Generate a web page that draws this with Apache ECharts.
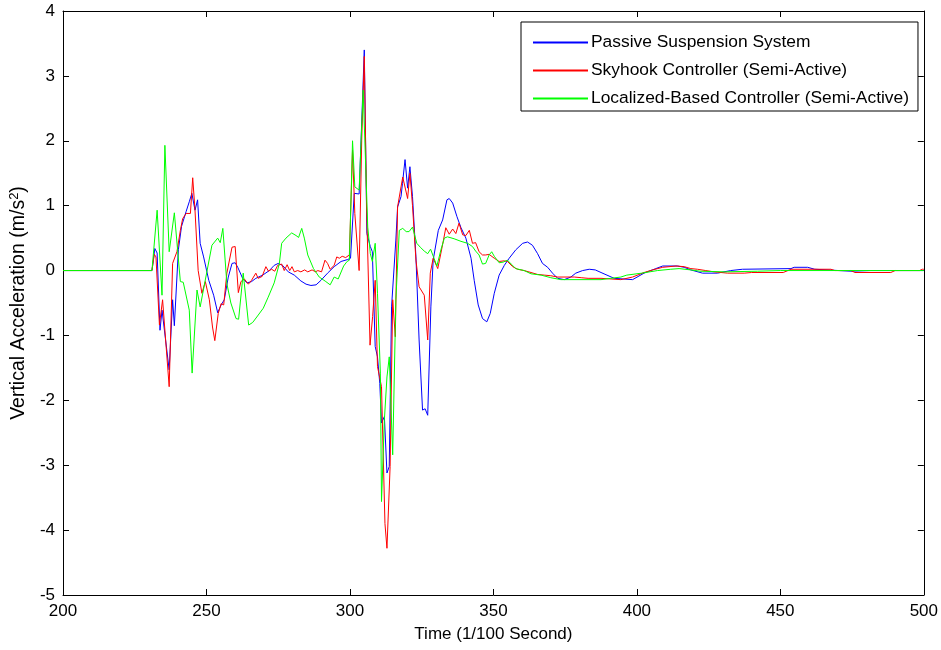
<!DOCTYPE html>
<html>
<head>
<meta charset="utf-8">
<script src="https://cdn.jsdelivr.net/npm/echarts@6/dist/echarts.min.js"></script>
<style>
  html, body { margin: 0; padding: 0; background: #fff; }
  #chart { width: 941px; height: 650px; }
</style>
</head>
<body>
<div id="chart"></div>
<script>
// Vertical acceleration response, time in 1/100 s, values in m/s^2
const seriesNames = [
  'Passive Suspension System',
  'Skyhook Controller (Semi-Active)',
  'Localized-Based Controller (Semi-Active)'
];

const xTicks = [200, 250, 300, 350, 400, 450, 500];
const yTicks = [-5, -4, -3, -2, -1, 0, 1, 2, 3, 4];

const passive = [
  [200,0],[231,0],[232,0.34],[232.8,0.27],[233.8,-0.92],[234.5,-0.61],[237,-1.53],[238.2,-0.45],
  [238.8,-0.85],[240.2,0.32],[241.3,0.68],[242.9,0.91],[244,1.06],[244.9,1.19],[246,0.93],
  [246.9,1.09],[247.8,0.42],[249,0.21],[250.8,-0.15],[252.5,-0.38],[253.9,-0.65],[255.1,-0.53],
  [256.2,-0.45],[257.6,-0.1],[258.9,0.11],[260,0.12],[260.9,0.05],[262.6,-0.12],[264.1,-0.19],
  [265.7,-0.17],[267.2,-0.12],[269.6,-0.07],[271.9,0],[273.6,0.08],[275,0.11],[276.5,0.08],
  [278.5,-0.02],[280.6,-0.07],[282.9,-0.16],[284.7,-0.21],[286.4,-0.23],[288.2,-0.22],
  [289.9,-0.15],[292.2,-0.04],[294.5,0.06],[296.9,0.14],[299.2,0.17],[300.2,0.19],[301.5,1.19],
  [303.2,1.18],[305,3.4],[305.9,0.57],[307.1,0.37],[307.8,0.29],[308.8,-1.17],[309.6,-1.33],
  [310.4,-1.74],[311,-2.35],[312,-2.25],[312.9,-3.12],[313.7,-3.02],[314.5,-0.56],[316,0.47],
  [316.6,0.98],[317.8,1.14],[318.3,1.34],[319.2,1.71],[320.1,1.27],[320.9,1.6],[321.8,1.14],
  [323,0.21],[324.1,-1.07],[325.3,-2.15],[326.2,-2.13],[327.1,-2.23],[328.2,-0.56],[329,0.16],
  [330.8,0.62],[332.3,0.78],[333.8,1.09],[334.6,1.11],[335.8,1.04],[337.3,0.83],[338.7,0.66],
  [340.4,0.5],[342.2,0.19],[343.3,-0.15],[344.7,-0.53],[346.2,-0.74],[347.7,-0.79],[348.9,-0.66],
  [350.3,-0.35],[352,-0.07],[353.8,0.08],[355.5,0.19],[357.8,0.32],[360.2,0.42],[361.9,0.44],
  [363.6,0.39],[365.4,0.26],[367.1,0.11],[368.9,0.05],[370.6,-0.04],[372.4,-0.12],[374.7,-0.14],
  [377,-0.1],[378.7,-0.04],[381.1,0],[383.4,0.02],[385.5,0.01],[387.5,-0.03],[392.1,-0.12],
  [398.5,-0.14],[402.5,-0.04],[406.6,0.03],[409,0.07],[414.2,0.07],[416.5,0.05],[418.8,0.01],
  [422.9,-0.04],[428.1,-0.04],[432.7,0],[436.8,0.02],[453.7,0.03],[454.8,0.05],[459.5,0.05],
  [462,0.02],[474.6,-0.01],[481.5,0],[500,0]
];

const skyhook = [
  [200,0],[231,0],[231.8,0.25],[232.4,0.21],[233.6,-0.84],[234.7,-0.45],[237,-1.79],[238.2,0.11],
  [239.7,0.29],[240.9,0.62],[241.7,0.8],[242.9,0.88],[244.4,0.88],[245.2,1.43],[246,0.93],
  [247.1,0],[248.4,-0.35],[249.6,-0.17],[251,-0.45],[252.1,-0.87],[252.9,-1.08],[254.1,-0.66],
  [255.1,-0.51],[256,-0.53],[257.1,-0.04],[258.9,0.36],[260,0.37],[261.1,-0.34],[262,-0.17],
  [263.2,-0.13],[264.6,-0.21],[265.7,-0.15],[267.2,-0.04],[268,-0.12],[269.4,-0.09],[270.7,0.06],
  [271.6,-0.01],[272.7,0.02],[273.8,-0.01],[274.8,0.08],[276.2,0.1],[277.1,0],[278.1,0.09],
  [279,0],[279.8,0.06],[280.6,-0.02],[281.8,0],[282.9,-0.02],[284.2,0.01],[285.3,-0.02],
  [286.8,0.01],[288,-0.02],[288.8,0],[290.1,-0.02],[291.3,0.16],[292.2,0.11],[293.1,0.02],
  [294.5,0.08],[295.4,0.21],[296.3,0.19],[297.3,0.22],[298.5,0.2],[299.8,0.24],[300.3,0.23],
  [300.9,1.86],[301.7,0.88],[303.2,0],[304.1,2.01],[305,3.3],[305.8,0.98],[307,-1.15],
  [307.9,-0.71],[308.8,-0.15],[309.6,-1.48],[311,-1.79],[312.2,-3.9],[312.9,-4.28],[314,-3.02],
  [314.9,-0.45],[315.8,-1.02],[316.6,0.98],[317.8,1.29],[318.4,1.44],[320.1,1.11],[320.9,1.5],
  [321.8,1.0],[323,0.16],[324.1,-0.25],[325.9,-0.38],[327.1,-1.07],[328,-0.04],[329,0.19],
  [330.6,0.03],[331.7,0.27],[332.6,0.47],[333.4,0.66],[334.6,0.56],[335.8,0.64],[336.9,0.57],
  [338,0.73],[339.3,0.55],[340.4,0.54],[341.6,0.62],[342.7,0.42],[343.8,0.43],[345,0.29],
  [346.2,0.24],[347.3,0.24],[348.5,0.25],[350.3,0.19],[352,0.14],[353.8,0.15],[354.9,0.14],
  [356.7,0.06],[358.4,0.02],[360.7,0],[363.1,-0.03],[365.4,-0.06],[367.7,-0.07],[370,-0.08],
  [372.4,-0.1],[378.2,-0.1],[380.6,-0.11],[383,-0.12],[387.5,-0.12],[394.4,-0.14],[398.5,-0.1],
  [402.5,-0.03],[405.5,0.01],[409,0.05],[413.6,0.07],[416.5,0.06],[418.8,0.03],[421.1,0.02],
  [424,0],[426.9,-0.02],[431.6,-0.04],[437.4,-0.04],[440,-0.03],[451,-0.03],[453.7,0.02],
  [467.6,0.02],[469,0],[474.6,0],[476,-0.03],[488.5,-0.03],[490,0],[498.5,0],[499.5,0.02],[500,0.02]
];

const localized = [
  [200,0],[231,0],[232.8,0.93],[234.5,-0.38],[235.5,1.93],[237,0.29],[238.8,0.89],[240.9,-0.17],
  [241.9,-0.18],[244,-0.61],[245,-1.58],[246.7,-0.3],[247.8,-0.56],[251.9,0.39],[253.9,0.5],
  [254.8,0.43],[255.7,0.65],[257.1,-0.2],[258.5,-0.5],[260.3,-0.74],[261.2,-0.75],[262.8,-0.04],
  [264.7,-0.84],[266.1,-0.8],[267.8,-0.7],[269.8,-0.58],[271.5,-0.41],[273.6,-0.19],[275.4,0.11],
  [276.2,0.42],[277.7,0.5],[279.7,0.58],[281.2,0.54],[282.1,0.51],[283.2,0.65],[284.1,0.5],
  [285.3,0.24],[287.3,0.03],[289.3,-0.1],[291.6,-0.17],[293.1,-0.22],[294.5,-0.1],[295.9,-0.13],
  [297.8,0.07],[299,0.14],[299.8,0.16],[300.9,2.0],[301.7,1.29],[303.2,1.24],[304.6,2.78],
  [306.2,0.67],[307.1,0.26],[307.8,0.14],[308.8,0.42],[309.6,-0.35],[310.6,-1.58],[311,-3.56],
  [312,-2.3],[312.9,-1.64],[313.7,-1.33],[314.9,-2.84],[316,-0.45],[317.2,0.62],[318.4,0.65],
  [319.6,0.6],[320.6,0.6],[321.8,0.67],[323.3,0.42],[324.5,0.36],[325.9,0.3],[327.1,0.26],
  [328.1,0.33],[329.2,0.2],[330.3,0.07],[331.7,0.32],[332.9,0.5],[334,0.52],[336.3,0.49],
  [338.7,0.45],[341,0.42],[342.7,0.37],[343.8,0.3],[345,0.24],[346.2,0.1],[347.3,0.11],
  [348.5,0.24],[349.4,0.29],[350.3,0.22],[352,0.12],[353.4,0.13],[354.9,0.16],[356.2,0.1],
  [357.8,0.03],[360.7,0],[363.1,-0.05],[366.6,-0.07],[370,-0.11],[373.5,-0.14],[387.5,-0.14],
  [390.9,-0.12],[394.4,-0.1],[396.5,-0.07],[401.7,-0.04],[407.2,0],[411.8,0.02],[414.7,0.03],
  [418.8,0.01],[422,-0.01],[430.4,-0.02],[442,-0.01],[450,0],[500,0]
];

const lineColors = ['#0000ff', '#ff0000', '#00ff00'];

const FONT = 'Liberation Sans, Arial, sans-serif';
const axisText = { color: '#000', fontFamily: FONT, fontSize: 17 };

function valueAxis(base, extra) {
  return Object.assign({
    type: 'value',
    min: base[0],
    max: base[base.length - 1],
    interval: base[1] - base[0],
    axisLine: { show: true, onZero: false, lineStyle: { color: '#000', width: 1 } },
    axisTick: { show: true, inside: true, length: 6, lineStyle: { color: '#000' } },
    splitLine: { show: false },
    axisLabel: Object.assign({ margin: 8 }, axisText)
  }, extra);
}

const chart = echarts.init(document.getElementById('chart'), null, { renderer: 'canvas' });

chart.setOption({
  backgroundColor: '#fff',
  animation: false,
  grid: { left: 62, right: 17, top: 11, bottom: 55, show: false },
  legend: {
    orient: 'vertical',
    left: 521,
    top: 22,
    padding: [12, 9, 4, 11],
    itemWidth: 55,
    itemHeight: 14,
    itemGap: 11,
    // legend keys are plain line segments (no marker)
    itemStyle: { opacity: 0 },
    backgroundColor: '#fff',
    borderColor: '#000',
    borderWidth: 1,
    textStyle: { color: '#000', fontFamily: FONT, fontSize: 17.4, padding: [0, 0, 0, -2] },
    data: seriesNames
  },
  xAxis: [
    valueAxis(xTicks, {
      position: 'bottom',
      name: 'Time (1/100 Second)',
      nameLocation: 'middle',
      nameGap: 31,
      nameTextStyle: axisText
    }),
    valueAxis(xTicks, { position: 'top', axisLabel: { show: false } })
  ],
  yAxis: [
    valueAxis(yTicks, {
      position: 'left',
      name: 'Vertical Acceleration (m/s{sup|2})',
      nameLocation: 'middle',
      nameGap: 25,
      nameTextStyle: {
        color: '#000', fontFamily: FONT, fontSize: 19.5,
        rich: { sup: { color: '#000', fontFamily: FONT, fontSize: 13, padding: [0, 0, 9, 0] } }
      }
    }),
    valueAxis(yTicks, { position: 'right', axisLabel: { show: false } })
  ],
  series: [passive, skyhook, localized].map((d, i) => ({
    name: seriesNames[i],
    type: 'line',
    xAxisIndex: 0,
    yAxisIndex: 0,
    data: d,
    symbol: 'none',
    showSymbol: false,
    smooth: false,
    color: lineColors[i],
    lineStyle: { width: 1, color: lineColors[i] }
  }))
});
</script>
</body>
</html>
